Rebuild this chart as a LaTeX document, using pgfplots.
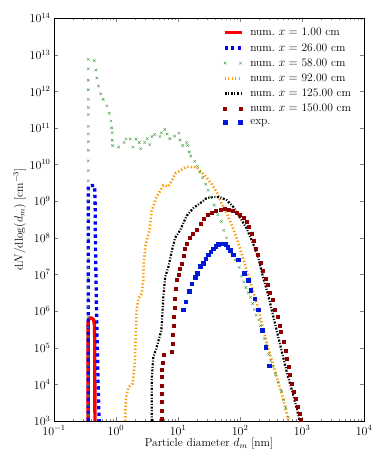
\documentclass[border=0pt]{standalone}
\usepackage{pgfplots}
\pgfplotsset{compat=1.18}
\definecolor{cgreen}{rgb}{0.25,0.62,0.25}
\definecolor{corange}{rgb}{1,0.6,0}
\definecolor{cdred}{rgb}{0.55,0,0}
\definecolor{cexp}{rgb}{0,0.1,0.85}
\pgfplotsset{
  mleg/.style={legend image code/.code={\path[##1] plot[only marks] coordinates {(0.02cm,0cm) (0.56cm,0cm)};}},
}
\begin{document}
\begin{tikzpicture}
\useasboundingbox (-54pt,-42pt) rectangle (332pt,421pt);
\begin{axis}[
  at={(0pt,0pt)}, anchor=south west,
  scale only axis, width=310pt, height=403pt,
  xmode=log, ymode=log,
  xmin=0.1, xmax=1e4, ymin=1e3, ymax=1e14,
  xtick={0.1,1,10,100,1000,10000},
  ytick={1e3,1e4,1e5,1e6,1e7,1e8,1e9,1e10,1e11,1e12,1e13,1e14},
  minor y tick style={draw=none},
  tick align=inside,
  major tick length=4pt, minor tick length=2pt,
  tick label style={font=\fontsize{11.5}{13}\selectfont},
  xticklabel style={yshift=-1pt},
  label style={font=\fontsize{11.5}{13}\selectfont},
  xlabel={Particle diameter $d_m$ [nm]},
  ylabel={d$N$/dlog$(d_m)$ [cm$^{-3}$]},
  xlabel style={yshift=4pt},
  ylabel style={yshift=-3pt},
  legend cell align=left,
  legend style={draw=none, fill=none, at={(rel axis cs:0.975,0.985)}, anchor=north east, row sep=2pt,
    font=\fontsize{11.5}{13}\selectfont, /tikz/every odd column/.append style={column sep=5pt}},
]
% num. x = 1.00 cm
\addplot[red, line width=3.3pt, line join=round] coordinates {
(0.355,1e3) (0.355,5e5) (0.365,6.2e5) (0.38,6.5e5) (0.41,6.4e5) (0.435,5.8e5) (0.45,4e5) (0.455,1e5) (0.457,1e3)
};
\addlegendentry{num.\ $x=$\ 1.00 cm}
% num. x = 26.00 cm
\addplot[blue, line width=3.3pt, dash pattern=on 3.3pt off 3.3pt] coordinates {
(0.357,1e3) (0.357,2.6e9) (0.45,2.7e9) (0.46,1e9) (0.465,1e8) (0.475,1e7) (0.485,1e6) (0.5,1e5) (0.515,1e4) (0.535,1e3)
};
\addlegendentry{num.\ $x=$\ 26.00 cm}
% num. x = 58.00 cm
\addplot[only marks, mark=x, mark size=1.8pt, cgreen, mleg] coordinates {
(0.357,1.5e3) (0.357,2.7e3) (0.357,5e3) (0.357,9.3e3) (0.357,1.7e4) (0.357,3.2e4) (0.357,5.9e4)
(0.357,1.07e5) (0.357,2e5) (0.357,3.7e5) (0.357,6.8e5) (0.357,1.26e6) (0.357,2.3e6) (0.357,4.3e6)
(0.357,8e6) (0.357,1.5e7) (0.357,2.7e7) (0.357,5e7) (0.357,9.3e7) (0.357,1.7e8) (0.357,3.2e8)
(0.357,5.8e8) (0.357,1.07e9) (0.357,2e9) (0.357,3.6e9) (0.357,6.8e9) (0.357,1.26e10) (0.357,2.45e10)
(0.357,4.2e10) (0.357,6.9e10) (0.357,1.1e11) (0.357,2.3e11) (0.357,3.6e11) (0.357,6e11) (0.357,1.1e12)
(0.357,2e12) (0.357,4.1e12) (0.357,7.4e12)
(0.446,6.9e12) (0.475,3.8e12) (0.49,2.3e12) (0.52,1.4e12) (0.566,8.5e11) (0.62,6e11) (0.71,4e11)
(0.78,2.5e11) (0.83,1.55e11) (0.85,1e11) (0.87,7.4e10) (0.87,4.6e10) (0.88,3.3e10) (1.1,3e10)
(1.35,4e10) (1.45,5e10) (1.7,5e10) (1.87,3e10) (2.1,4.9e10) (2.37,4e10) (2.5,2.7e10) (2.9,4e10)
(3.2,5.1e10) (3.5,3.5e10) (3.8,5.8e10) (4.2,6.6e10) (5.1,5.8e10) (5.4,7.4e10) (6.1,9e10) (6.7,6.8e10)
(7.4,5.1e10) (8.8,6e10) (10.3,7.2e10) (10.8,4.7e10) (11.9,3.3e10) (13.8,4e10) (14.3,3.3e10)
(15.2,2.2e10) (16,1.7e10) (18.5,1.23e10) (20.5,9e9) (22.5,6.2e9) (25,4.4e9) (28,2.9e9) (30.7,2e9)
(33.4,1.26e9) (38.3,7.8e8) (43.7,4.3e8) (50,2.8e8) (54.7,1.6e8) (60.6,1e8) (66,6e7) (73.7,3.7e7)
(83,2.5e7) (97,1.55e7) (106,9e6) (115,6.3e6) (124,4.4e6) (136,3.2e6) (148,2.4e6) (160,1.6e6)
(170,1.1e6) (182,7.7e5) (202,5.7e5) (215,4e5) (230,2.8e5) (248,1.8e5) (265,1.2e5) (290,6.6e4)
(312,4.5e4) (336,3.1e4) (375,1.9e4) (413,1.15e4) (467,6.6e3) (505,3.8e3) (547,2.3e3) (600,1.26e3)
};
\addlegendentry{num.\ $x=$\ 58.00 cm}
% num. x = 92.00 cm
\addplot[corange, line width=2.6pt, dash pattern=on 1.3pt off 2.2pt] coordinates {
(1.4,1e3) (1.42,2e3) (1.45,4.5e3) (1.6,8.5e3) (1.86,1.05e4) (2.0,3.6e4) (2.05,1e5) (2.1,3e5)
(2.15,1.05e6) (2.3,2.2e6) (2.6,3e6) (2.75,6.9e6) (2.8,2e7) (3.0,6.3e7) (3.45,1.6e8) (3.76,5.2e8)
(4.5,1.3e9) (5.8,2.7e9) (7.0,2.5e9) (8.0,3.7e9) (9.0,5.7e9) (11,7e9) (13.8,8.7e9) (16.7,8.5e9)
(20,8.5e9) (22.6,6.8e9) (27,5.1e9) (34.6,3e9) (42,1.8e9) (50.5,8.6e8) (61,4.6e8) (74,2.2e8)
(89,9.5e7) (106,3.7e7) (128,1.3e7) (155,4.6e6) (187,1.6e6) (226,4.6e5) (272,1.3e5) (325,4.6e4)
(390,1.6e4) (470,5.6e3) (555,1.9e3) (600,1e3)
};
\addlegendentry{num.\ $x=$\ 92.00 cm}
% num. x = 125.00 cm
\addplot[black, line width=2.2pt, dash pattern=on 2pt off 1.6pt on 1pt off 1.6pt] coordinates {
(3.76,1e3) (3.76,1.3e4) (4.0,5.6e4) (4.5,1e5) (5.4,3e5) (5.8,2.4e6) (6.2,8.5e6) (7.0,1.6e7)
(8.0,4.6e7) (9.0,1e8) (10.8,1.6e8) (13.8,4e8) (17.7,6.5e8) (22.6,8.7e8) (28.7,1.2e9) (36.5,1.3e9)
(46.5,1.3e9) (61,1.07e9) (77.8,7e8) (99,3.7e8) (128,1.8e8) (163,6.9e7) (196,3e7) (235,8.5e6)
(281,3e6) (336,8.5e5) (402,2.4e5) (481,6.9e4) (575,2e4) (688,6.9e3) (823,2.2e3) (914,1e3)
};
\addlegendentry{num.\ $x=$\ 125.00 cm}
% num. x = 150.00 cm
\addplot[only marks, mark=square*, mark size=1.5pt, cdred, mleg] coordinates {
(5.4,1.15e3) (5.4,1.95e3) (5.4,3.3e3) (5.4,5.6e3) (5.4,9.3e3) (5.45,1.6e4) (5.5,2.5e4) (5.6,4e4)
(5.8,6.6e4) (7.9,7.6e4) (8.2,1.26e5) (8.3,2.2e5) (8.4,4e5) (8.5,7.1e5) (8.8,1.26e6) (9.0,2.2e6)
(9.2,4e6) (9.6,7.1e6) (10.3,1e7) (10.8,1.4e7) (11.5,2e7) (12.3,3.2e7) (13,5e7) (14,7.1e7)
(15.6,1e8) (17.5,1.3e8) (20,1.66e8) (23,2.5e8) (26,3.3e8) (30,4.2e8) (35,4.8e8) (41,5.5e8)
(48,6e8) (56,6.3e8) (65,6e8) (76,5.5e8) (88,4.8e8) (100,4.4e8) (115,3.5e8) (128,2.7e8)
(140,2e8) (152,1.3e8) (165,8.5e7) (180,5.2e7) (196,3.5e7) (214,2.1e7) (235,1.26e7) (256,7.9e6)
(280,5.2e6) (305,3.2e6) (336,2e6) (365,1.1e6) (402,6.9e5) (430,4e5) (455,2.7e5) (500,1.5e5)
(548,8.5e4) (575,5e4) (600,3e4) (640,1.8e4) (688,1.05e4) (740,6.3e3) (790,4.1e3) (850,2.5e3)
(914,1.6e3) (950,1.1e3)
};
\addlegendentry{num.\ $x=$\ 150.00 cm}
% exp.
\addplot[only marks, mark=square*, mark size=1.8pt, cexp, mleg] coordinates {
(12,1.1e6) (13.4,1.8e6) (15.2,3.5e6) (16.7,5.6e6) (19,8.5e6) (20.5,1.1e7) (23,1.7e7) (25.5,2e7)
(28,2.7e7) (30.9,3.5e7) (33.7,4.2e7) (36.7,5e7) (40.6,5.9e7) (44.5,6.6e7) (48.7,6.9e7) (53.8,6.9e7)
(58.8,6.6e7) (63.5,5.6e7) (69,4.6e7) (78,3.5e7) (94,2.5e7) (117,1.1e7) (137,6.9e6) (148,3.7e6)
(172,2.2e6) (197,1.1e6) (227,3e5) (261,1.05e5) (296,3.2e4)
};
\addlegendentry{exp.}
\end{axis}
\end{tikzpicture}
\end{document}
